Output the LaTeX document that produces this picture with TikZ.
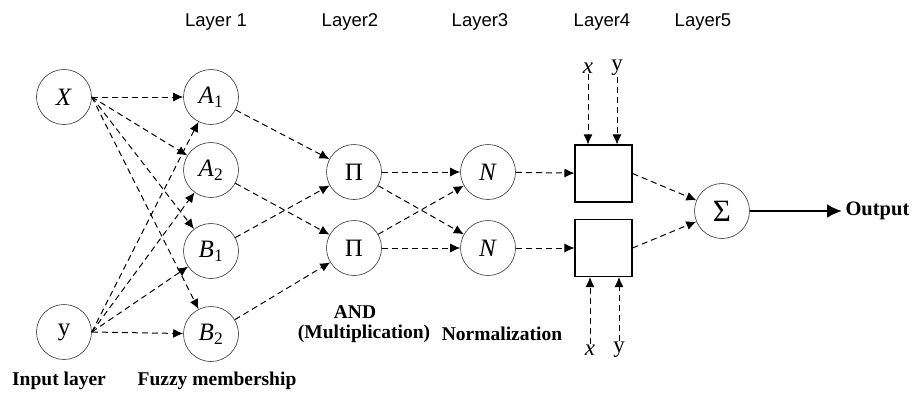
\documentclass[tikz,border=0pt]{standalone}
\usepackage{fontspec}
\setmainfont{Liberation Serif}
\newfontfamily\layerfont{Liberation Sans}
\usetikzlibrary{arrows.meta, positioning}

\begin{document}
\begin{tikzpicture}[x=1pt, y=-1pt,
    neuron/.style={circle, draw=black!80, line width=0.6pt, minimum size=55pt,
        inner sep=0pt, font=\fontsize{25}{25}\selectfont},
    rulebox/.style={rectangle, draw=black, line width=1.1pt, minimum width=57pt,
        minimum height=57pt, inner sep=0pt},
    layer/.style={font=\layerfont\fontsize{18.5}{20}\selectfont},
    caption/.style={font=\bfseries\fontsize{19.5}{23}\selectfont, align=center},
    var/.style={font=\fontsize{23}{23}\selectfont, inner sep=1pt},
    signal/.style={dashed, dash pattern=on 6pt off 4pt, line width=1pt,
        -{Latex[length=10pt, width=9pt]}}
]
\useasboundingbox (0,0) rectangle (915,408);

% layer titles
\node (L1) [layer] at (216,22) {Layer 1};
\node (L2) [layer] at (350,22) {Layer2};
\node (L3) [layer] at (480,22) {Layer3};
\node (L4) [layer] at (602,22) {Layer4};
\node (L5) [layer] at (703,22) {Layer5};

% inputs and membership functions
\node (X) [neuron] at (64,97) {\textit{X}};
\node (Y) [neuron] at (64,332) {y};
\node (A1) [neuron] at (211,97) {\textit{A}\textsubscript{1}};
\node (A2) [neuron] at (211,170) {\textit{A}\textsubscript{2}};
\node (B1) [neuron] at (211,251) {\textit{B}\textsubscript{1}};
\node (B2) [neuron] at (211,334) {\textit{B}\textsubscript{2}};

% rules, normalization, consequents, sum
\node (P1) [neuron] at (354,172) {Π};
\node (P2) [neuron] at (354,248) {Π};
\node (N1) [neuron] at (488,172) {\textit{N}};
\node (N2) [neuron] at (488,248) {\textit{N}};
\node (R1) [rulebox] at (603.5,173.5) {};
\node (R2) [rulebox] at (603.5,248) {};
\node (S) [neuron, font=\fontsize{31}{31}\selectfont] at (722,211) {Σ};
\node (Out) [font=\bfseries\fontsize{20.5}{24}\selectfont, anchor=west] at (842,211) {Output};

% x, y feeding the consequent boxes
\node (xt) [var] at (588,68) {\textit{x}};
\node (yt) [var] at (617,68) {y};
\node (xb) [var] at (590,350) {\textit{x}};
\node (yb) [var] at (619,350) {y};

% captions
\node (C1) [caption] at (59,381) {Input layer};
\node (C2) [caption] at (217,381) {Fuzzy membership};
\node (C3) [caption] at (355,312) {AND};
\node (C4) [caption] at (364,334) {(Multiplication)};
\node (C5) [caption] at (502,334) {Normalization};

% layer 1
\foreach \t in {A1,A2,B1,B2}{
    \draw [signal] (X.east) -- (\t);
    \draw [signal] (Y.east) -- (\t);
}
% layer 2
\draw [signal] (A1) -- (P1);
\draw [signal] (B1) -- (P1);
\draw [signal] (A2) -- (P2);
\draw [signal] (B2) -- (P2);
% layer 3
\draw [signal] (P1) -- (N1);
\draw [signal] (P1) -- (N2);
\draw [signal] (P2) -- (N1);
\draw [signal] (P2) -- (N2);
% layer 4
\draw [signal] (N1) -- (R1);
\draw [signal] (N2) -- (R2);
\draw [signal] (xt) -- (xt |- R1.north);
\draw [signal] (yt) -- (yt |- R1.north);
\draw [signal] (xb) -- (xb |- R2.south);
\draw [signal] (yb) -- (yb |- R2.south);
% layer 5
\draw [signal] (R1.east) -- (S);
\draw [signal] (R2.east) -- (S);
\draw [line width=2.5pt, -{Latex[length=15pt, width=14pt]}] (S) -- (Out.west);
\end{tikzpicture}
\end{document}
